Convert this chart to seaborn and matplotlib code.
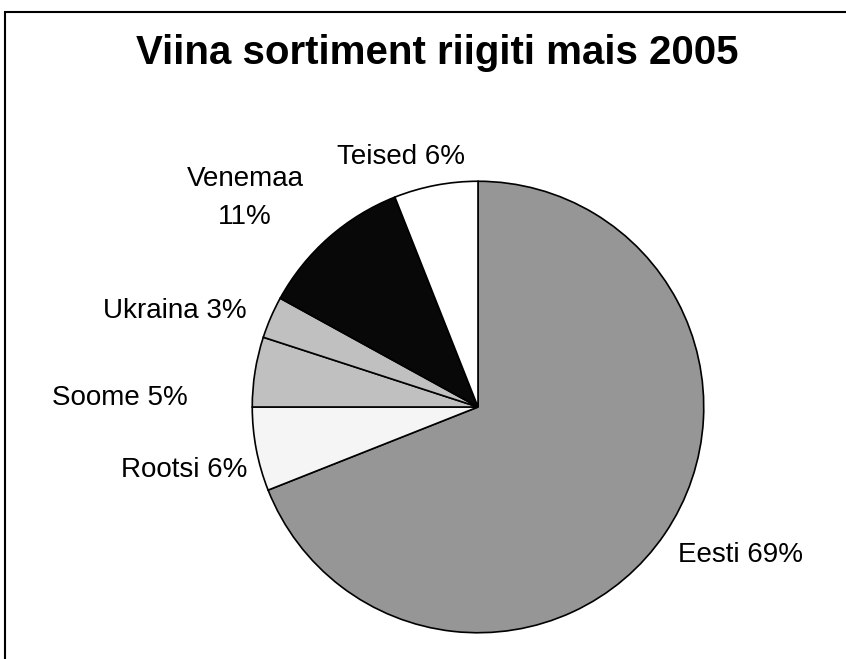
import matplotlib
matplotlib.use("Agg")
import matplotlib.pyplot as plt
from matplotlib.patches import Rectangle
import seaborn as sns

categories = ["Eesti", "Rootsi", "Soome", "Ukraina", "Venemaa", "Teised"]
values = [69, 6, 5, 3, 11, 6]
labels = ["Eesti 69%", "Rootsi 6%", "Soome 5%", "Ukraina 3%", "Venemaa\n11%", "Teised 6%"]
colors = ["#969696", "#f5f5f5", "#c0c0c0", "#c0c0c0", "#080808", "#ffffff"]

sns.set_theme(style="white")
plt.rcParams["font.family"] = ["Liberation Sans", "DejaVu Sans"]
plt.rcParams["text.color"] = "black"

W, H = 846, 659
fig = plt.figure(figsize=(W / 100, H / 100), dpi=100)
fig.patch.set_facecolor("white")

# outer frame (clipped at right and bottom as in the reference)
fig.patches.append(Rectangle((5 / W, -0.1), 1.2, 1 - 12 / H + 0.1,
                             transform=fig.transFigure, fill=False,
                             edgecolor="black", linewidth=1.5, zorder=0))

cx, cy, r = 478, 407, 228
ax = fig.add_axes([(cx - r) / W, (H - cy - r) / H, 2 * r / W, 2 * r / H])
ax.pie(values, colors=colors, startangle=90, counterclock=False, radius=1,
       wedgeprops=dict(edgecolor="black", linewidth=1.2))
ax.set_xlim(-1.01, 1.01)
ax.set_ylim(-1.01, 1.01)
ax.set_aspect("equal")
ax.axis("off")

# label centers in pixel positions
label_pos = [(740, 555), (184, 470), (120, 398), (175, 311), (245, 198), (401, 157)]
for lab, (px, py) in zip(labels, label_pos):
    fig.text(px / W, 1 - py / H, lab, ha="center", va="center",
             fontsize=20, color="black", linespacing=1.55)

fig.text(437.5 / W, 1 - 53 / H, "Viina sortiment riigiti mais 2005",
         ha="center", va="center", fontsize=29, fontweight="bold", color="black")

fig.savefig("out.png", dpi=100)
